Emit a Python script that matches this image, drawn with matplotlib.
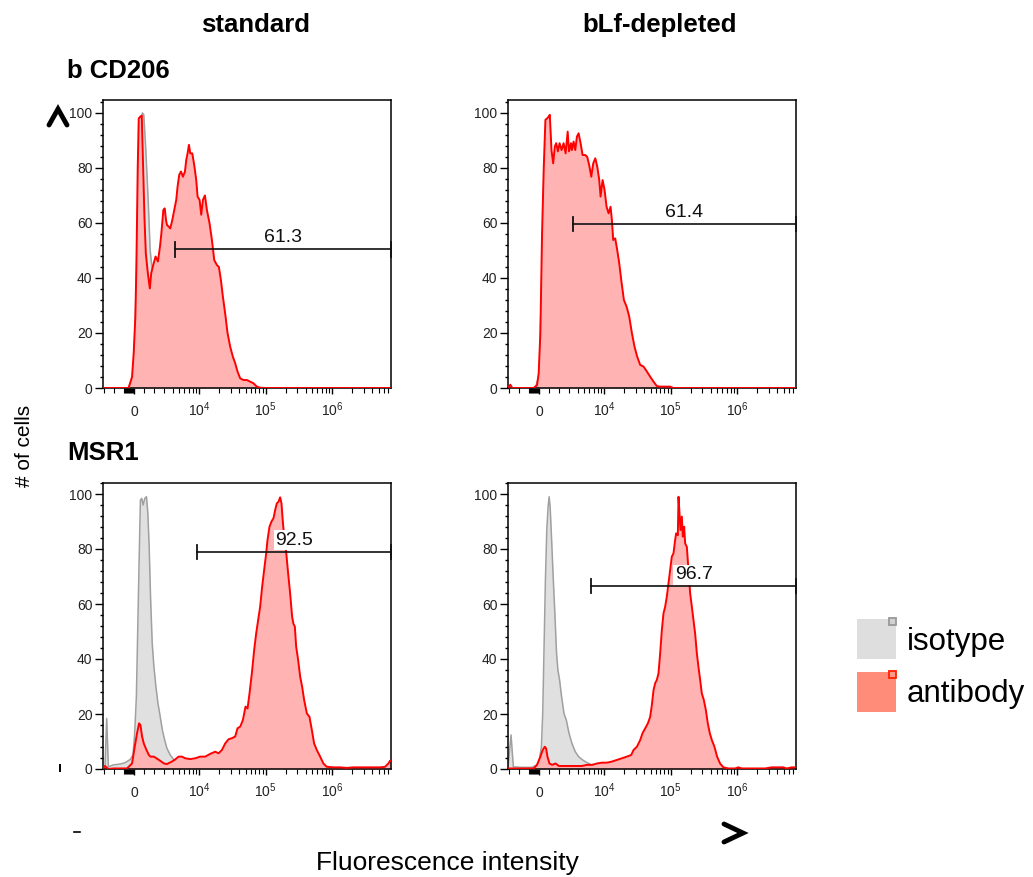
import matplotlib
matplotlib.use("Agg")
import matplotlib.pyplot as plt
from matplotlib.lines import Line2D
from matplotlib.patches import Rectangle
from matplotlib.ticker import FixedLocator, MultipleLocator, NullFormatter

plt.rcParams['font.family'] = ['Liberation Sans', 'DejaVu Sans']
plt.rcParams['mathtext.fontset'] = 'custom'
plt.rcParams['mathtext.rm'] = 'Liberation Sans'
plt.rcParams['mathtext.it'] = 'Liberation Sans:italic'
plt.rcParams['mathtext.bf'] = 'Liberation Sans:bold'

# ---- data: fluorescence intensity (x) vs % of max (y) ----
X_MIN, X_MAX = -3130, 7.7e6

# CD206, standard
cd206_std_iso_x = [-3130, -600, -67, 202, 438, 606, 808, 942, 1145, 1380,
                   1582, 1717, 1953, 2290, 2626, 3266, 4600, 6500, 10300, 18450,
                   33000, 58480, 82600, 104200, 7.7e6]
cd206_std_iso_y = [0, 0, 5, 40, 85, 97, 100, 99.3, 86.5, 68.4,
                   50, 45.3, 40, 30, 20, 12, 6, 3, 1.5, 1,
                   0.8, 0.5, 0.3, 0, 0]
cd206_std_ab_x = [-3130, -576, -232, -67, 101, 202, 337, 438, 606, 741,
                  842, 1010, 1145, 1347, 1549, 1683, 1885, 2121, 2357, 2559,
                  2693, 2895, 3030, 3165, 3266, 3459, 3664, 3926, 4207, 4508,
                  4721, 5000, 5309, 5689, 6095, 6383, 6675, 7000, 7328, 7852,
                  8414, 9016, 9441, 10116, 10715, 11370, 12180, 13050, 14290, 15520,
                  16830, 18450, 19770, 21180, 22700, 24600, 26670, 29240, 32060, 34760,
                  37670, 41380, 46450, 52120, 58480, 65610, 73620, 82600, 7.7e6]
cd206_std_ab_y = [0, 0, 4, 12.6, 26, 44, 80, 98, 98.7, 99,
                  85, 62, 49, 41.7, 36.2, 41.7, 44.7, 47.8, 46, 51.4,
                  56, 64.7, 65.3, 61, 59.3, 58.7, 58, 61, 64.7, 68.4,
                  73.2, 77.5, 78.7, 76.8, 78.7, 83, 85.3, 88.4, 85.3, 85.3,
                  81, 75.6, 69.6, 68.4, 63, 68.4, 70, 64.7, 59.9, 53.8,
                  46.5, 44.7, 44, 39.3, 33.2, 27, 20, 15, 11.4, 9,
                  6, 3.5, 2.9, 2.9, 2.3, 1.7, 0.5, 0, 0]

# CD206, bLf-depleted
cd206_dep_iso_x = [-3130, -400, 0, 200, 450, 700, 900, 1100, 1400, 1800,
                   2400, 3300, 5000, 9000, 20000, 50000, 7.7e6]
cd206_dep_iso_y = [0, 0, 5, 35, 75, 92, 95, 85, 65, 45,
                   28, 15, 6, 2, 1, 0, 0]
cd206_dep_ab_x = [-3130, -2900, -2700, -576, -232, -67, 101, 269, 438, 606,
                  774, 942, 1044, 1212, 1380, 1549, 1683, 1852, 2020, 2222,
                  2424, 2626, 2828, 2962, 3165, 3266, 3459, 3664, 3882, 4111,
                  4406, 4721, 5179, 5549, 5943, 6383, 6839, 7328, 7852, 8414,
                  8810, 9441, 10116, 10840, 11620, 12450, 13050, 13650, 14630, 15670,
                  16830, 18020, 19770, 21680, 23770, 26060, 28580, 31330, 34760, 38990,
                  43850, 49170, 55210, 61940, 69500, 77970, 98200, 110000, 7.7e6]
cd206_dep_ab_y = [0, 1.2, 0, 0, 1, 5.3, 20, 56, 80, 97.5,
                  98, 98.7, 99.3, 86.5, 81.7, 87.8, 89, 86, 89, 86.5,
                  89, 85.3, 93.2, 86, 89, 86.5, 89.6, 86.5, 91.4, 92.6,
                  89, 84.7, 84.7, 84, 81, 76.8, 81.7, 83.5, 80.5, 75.6,
                  69.6, 75.6, 72, 65.9, 63.5, 65.9, 61, 53.8, 54.4, 50.2,
                  45.3, 39.3, 32, 29.6, 26, 20, 15, 11.4, 8.4, 7.8,
                  6, 4.1, 2.3, 0.7, 0.5, 0.5, 0.5, 0, 0]

# MSR1, standard
msr1_std_iso_x = [-3130, -2929, -2761, -2593, -2088, -1414, -909, -404, -135, 33,
                  202, 337, 471, 606, 741, 875, 1044, 1212, 1347, 1481,
                  1616, 1784, 1953, 2155, 2357, 2559, 2795, 3030, 3266, 3664,
                  4111, 4613, 5495, 6531, 8222, 10350, 7.7e6]
msr1_std_iso_y = [0.5, 1, 18.4, 0.8, 1.5, 1.8, 2.3, 3.5, 5.1, 13,
                  26.3, 50.5, 74.8, 97.8, 98.4, 96, 98.4, 99, 93, 80.8,
                  62.7, 45.7, 37.2, 29.9, 23.9, 19.6, 14.2, 10.5, 7.5, 5.1,
                  3.5, 2.7, 2, 1.5, 0.8, 0.2, 0]
msr1_std_ab_x = [-3130, -2929, -2593, -2088, -740, -232, 33, 269, 471, 606,
                 774, 942, 1212, 1448, 1616, 1953, 2458, 2963, 3266, 3882,
                 4355, 4886, 5495, 6156, 7328, 8710, 10350, 12310, 14630, 17400,
                 19540, 21930, 24600, 27610, 31030, 34760, 37670, 41380, 45400, 49770,
                 53330, 57150, 61940, 67140, 71950, 77100, 82600, 88530, 94870, 101800,
                 106600, 114200, 122400, 131200, 139000, 147200, 156000, 165200, 173000, 181200,
                 191900, 203300, 217800, 233400, 250100, 261800, 274800, 287700, 308300, 330400,
                 354000, 379300, 416900, 456000, 495500, 535800, 588800, 660700, 739600, 831800,
                 1.047e6, 1.318e6, 1.663e6, 2.089e6, 2.636e6, 3.319e6, 4.178e6, 5.272e6, 6.266e6, 7.03e6,
                 7.45e6, 7.7e6]
msr1_std_ab_y = [0.3, 1.1, 0, 0.2, 0.2, 2, 8, 13, 16.6, 16,
                 11.8, 9.3, 6.9, 5.1, 4.5, 4.5, 3.3, 2, 1.8, 2.7,
                 3.5, 4.5, 4.5, 3.9, 3.6, 3.9, 4.5, 4.5, 5.5, 6.3,
                 5.7, 6.9, 9.3, 10.8, 11.2, 11.8, 14.8, 15.4, 17.8, 22.7,
                 22, 27.5, 34.8, 43.3, 49.3, 54.2, 59, 66.3, 72.4, 78.4,
                 83.3, 88.1, 90, 91.2, 94.2, 96.6, 97.2, 98.8, 96.6, 90,
                 83.3, 79, 71.2, 63.9, 55.4, 52.8, 51.8, 44.5, 39.6, 33.6,
                 29.9, 25.1, 20.2, 19, 14.2, 9.3, 6.9, 4.5, 2, 0.8,
                 0.6, 0.6, 0.4, 0.6, 0.6, 0.6, 0.6, 0.6, 0.8, 2,
                 3, 3]

# MSR1, bLf-depleted
msr1_dep_iso_x = [-3130, -2828, -2593, -1751, -740, -232, 0, 202, 337, 471,
                  606, 741, 875, 976, 1077, 1212, 1380, 1549, 1717, 1852,
                  2020, 2222, 2458, 2693, 2963, 3266, 3664, 4111, 4721, 5495,
                  6156, 6918, 8222, 7.7e6]
msr1_dep_iso_y = [0.6, 12.4, 0.8, 0.6, 0.6, 1.5, 3.3, 8.1, 20.2, 44.5,
                  68.7, 86.9, 95.4, 99, 95.4, 84.5, 69.9, 56.6, 42.1, 36,
                  32.4, 26.3, 20.2, 17.8, 13, 9.3, 6.3, 4.5, 3.3, 2.3,
                  1.8, 0.8, 0, 0]
msr1_dep_ab_x = [-3130, -2929, -572, -232, 101, 337, 539, 673, 808, 1010,
                 1279, 1616, 1953, 2458, 2963, 3664, 4613, 5495, 6531, 7762,
                 9228, 10970, 13050, 15520, 18450, 21930, 25470, 27610, 31030, 34760,
                 37670, 41380, 45400, 49170, 52120, 55210, 58480, 61940, 65610, 69500,
                 73620, 77970, 82600, 87500, 92660, 98200, 104000, 110200, 116800, 120900,
                 128200, 131200, 135800, 140600, 147200, 152500, 159600, 165200, 175100, 185400,
                 196400, 208400, 220300, 233400, 247700, 261800, 277800, 294400, 315500, 338100,
                 362200, 388200, 416900, 456000, 500000, 554600, 622300, 739600, 933300, 1.047e6,
                 1.177e6, 1.663e6, 2.636e6, 3.319e6, 4.178e6, 4.966e6, 5.585e6, 6.637e6, 7.45e6, 7.7e6]
msr1_dep_ab_y = [0.2, 0.2, 0.2, 1.5, 4.5, 6.9, 8.1, 7.5, 4.5, 2,
                 1.5, 2, 1.1, 1.1, 1.1, 1.1, 1.1, 1.5, 1.5, 2,
                 2.3, 2.3, 2.7, 3.3, 3.9, 4.5, 5.1, 6.9, 8.1, 10.5,
                 13, 14.8, 16.6, 19, 23.3, 28.7, 31.2, 32.4, 34.8, 42.1,
                 50.5, 56.6, 59, 62.7, 67.5, 72.4, 77.2, 78.4, 83.3, 85.7,
                 85, 99, 93, 86.9, 91.8, 84.5, 88.1, 82, 80.8, 72.4,
                 63.9, 59, 54.2, 49.3, 42.1, 37.2, 32.4, 27.5, 25.1, 21.5,
                 16.6, 13, 10.5, 8.1, 4.5, 2, 0.6, 0.2, 0.2, 0.6,
                 0.2, 0.2, 0.2, 0.6, 0.6, 0.6, 0.2, 0.6, 0.6, 0.6]

# gates: lower bound, height, % positive
gate_low = [4355, 3360, 9228, 6383]
gate_height = [50.4, 59.6, 79, 66.5]
gate_pct = ['61.3', '61.4', '92.5', '96.7']

col_titles = ['standard', 'bLf-depleted']
row_titles = ['b CD206', 'MSR1']

major_ticks = [0, 1e4, 1e5, 1e6]
major_labels = ['0', r'$\mathregular{10^{4}}$', r'$\mathregular{10^{5}}$', r'$\mathregular{10^{6}}$']
minor_ticks = ([-3000, -2000, -1000] + list(range(-900, 0, 100)) + [1000, 2000, 3000]
               + [k * 10 ** e for e in (3, 4, 5) for k in range(2, 10) if k * 10 ** e > 3000]
               + [k * 1e6 for k in range(2, 8)])

W, H = 1033, 877
RED = '#ff0000'
PINK = '#ffb3b3'
GREY_LINE = '#a0a0a0'
GREY_FILL = '#e0e0e0'


def fx(px):
    return px / W


def fy(py):
    return 1 - py / H


fig = plt.figure(figsize=(W / 100, H / 100), dpi=100)

panels = [
    ((103, 100, 391, 388), 104.7, cd206_std_iso_x, cd206_std_iso_y, cd206_std_ab_x, cd206_std_ab_y),
    ((508, 100, 796, 388), 104.7, cd206_dep_iso_x, cd206_dep_iso_y, cd206_dep_ab_x, cd206_dep_ab_y),
    ((103, 483, 391, 769), 104.0, msr1_std_iso_x, msr1_std_iso_y, msr1_std_ab_x, msr1_std_ab_y),
    ((508, 483, 796, 769), 104.0, msr1_dep_iso_x, msr1_dep_iso_y, msr1_dep_ab_x, msr1_dep_ab_y),
]

for i, (box, ytop, ix, iy, ax_, ay) in enumerate(panels):
    l, t, r, b = box
    ax = fig.add_axes([fx(l), fy(b), (r - l) / W, (b - t) / H])
    ax.set_xscale('symlog', linthresh=3162, linscale=0.429, base=10)
    ax.set_xlim(X_MIN, X_MAX)
    ax.set_ylim(0, ytop)

    ax.fill_between(ix, iy, 0, color=GREY_FILL, lw=0, zorder=1)
    ax.plot(ix, iy, color=GREY_LINE, lw=1.1, zorder=1.1)
    ax.fill_between(ax_, ay, 0, color=PINK, lw=0, zorder=2)
    ax.plot(ax_, ay, color=RED, lw=1.4, zorder=3)

    # gate
    g0, gy = gate_low[i], gate_height[i]
    ax.plot([g0, X_MAX], [gy, gy], color='#111111', lw=1.2, zorder=4, clip_on=False)
    ax.plot([g0, g0], [gy - 2.6, gy + 2.6], color='#111111', lw=1.3, zorder=4)
    ax.plot([X_MAX, X_MAX], [gy - 2.6, gy + 2.6], color='#111111', lw=1.3, zorder=4, clip_on=False)
    ax.annotate(gate_pct[i], xy=((g0 * X_MAX) ** 0.5, gy), xytext=(0, 5), textcoords='offset points',
                ha='center', va='baseline', fontsize=14, color='#111111', zorder=5,
                bbox=dict(facecolor='white', edgecolor='none', pad=1.0))

    ax.xaxis.set_major_locator(FixedLocator(major_ticks))
    ax.set_xticklabels(major_labels)
    plt.setp(ax.get_xticklabels(), va='baseline')
    ax.xaxis.set_minor_locator(FixedLocator(minor_ticks))
    ax.xaxis.set_minor_formatter(NullFormatter())
    ax.set_yticks([0, 20, 40, 60, 80, 100])
    ax.yaxis.set_minor_locator(MultipleLocator(4))

    ax.tick_params(axis='x', which='major', length=4.5, width=1, pad=15.5, labelsize=10, labelcolor='#222222')
    ax.tick_params(axis='x', which='minor', length=3.5, width=0.8)
    ax.tick_params(axis='y', which='major', length=6, width=1, pad=1.5, labelsize=10, labelcolor='#222222')
    ax.tick_params(axis='y', which='minor', length=2.5, width=1)
    for s in ax.spines.values():
        s.set_linewidth(1.1)
        s.set_color('black')

# titles and labels
for txt, cx in zip(col_titles, [256, 660]):
    fig.text(fx(cx), fy(32), txt, ha='center', va='baseline', fontsize=18.5, fontweight='bold')
for txt, py in zip(row_titles, [78, 460]):
    fig.text(fx(67), fy(py), txt, ha='left', va='baseline', fontsize=18.5, fontweight='bold')
fig.text(fx(25), fy(446), '# of cells', rotation=90, ha='center', va='center', fontsize=15)
fig.text(fx(447), fy(870), 'Fluorescence intensity', ha='center', va='baseline', fontsize=19)

# stray marks of the original figure
fig.add_artist(Line2D([fx(49), fx(58), fx(67)], [fy(125), fy(109), fy(125)],
                      transform=fig.transFigure, color='black', lw=3.5, solid_capstyle='round',
                      solid_joinstyle='miter'))
fig.add_artist(Line2D([fx(724), fx(743), fx(724)], [fy(824), fy(833), fy(842)],
                      transform=fig.transFigure, color='black', lw=3.5, solid_capstyle='round',
                      solid_joinstyle='miter'))
fig.add_artist(Line2D([fx(74), fx(80)], [fy(832), fy(832)], transform=fig.transFigure,
                      color='black', lw=1.2))
fig.add_artist(Line2D([fx(60), fx(60)], [fy(765), fy(771)], transform=fig.transFigure,
                      color='black', lw=1.4))

# legend
legend_items = [('isotype', '#dedede', '#d2d2d2', '#999999', 619, 650),
                ('antibody', '#ff8c78', '#ff9a88', '#ff2000', 672, 702)]
for name, big, inner, edge, top, base in legend_items:
    fig.add_artist(Rectangle((fx(857), fy(top + 40)), 39 / W, 40 / H, transform=fig.transFigure,
                             facecolor=big, edgecolor='none'))
    fig.add_artist(Rectangle((fx(889), fy(top + 6)), 7 / W, 7 / H, transform=fig.transFigure,
                             facecolor=inner, edgecolor=edge, lw=1.3))
    fig.text(fx(907), fy(base), name, ha='left', va='baseline', fontsize=22.5)

fig.savefig('out.png', dpi=100)
